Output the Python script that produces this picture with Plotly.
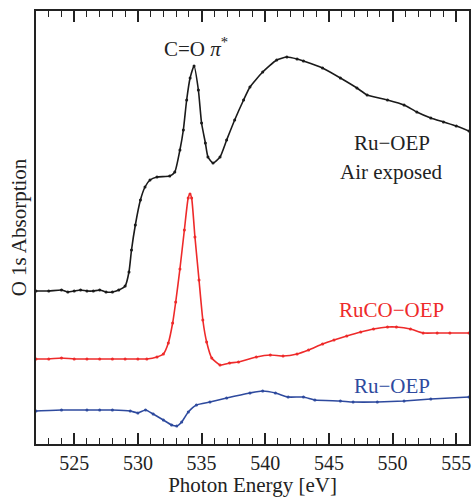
import plotly.graph_objects as go

# Photon energy [eV] and O 1s absorption (arbitrary units, offset for display)
air_energy = [522, 523, 524, 524.5, 525, 525.5, 526, 526.5, 527, 527.5, 528, 528.5, 529, 529.3, 529.5,
              529.8, 530.2, 530.56, 530.95, 531.5, 532.5, 532.9, 533.3, 533.57, 533.83, 534.1, 534.41,
              534.75, 535.0, 535.3, 535.5, 535.9, 536.45, 536.97, 537.6, 538.3, 538.8, 539.8, 540.9,
              541.7, 542.5, 543, 544.5, 545.9, 547.2, 548, 549.6, 550.9, 551.9, 553, 554, 555, 556]
air_abs = [153, 153, 154, 152, 153, 154, 153, 153, 154, 152, 152, 154, 158, 172, 194,
           219, 244, 257, 264, 267, 268, 272, 294, 314, 344, 366, 378,
           354, 321, 301, 287, 281, 287, 304, 324, 344, 357, 372, 384,
           387, 385, 383, 376, 366, 356, 349, 344, 339, 332, 326, 322, 318, 313]

ruco_energy = [522, 523, 524, 525, 526, 527, 528, 529, 530, 530.7, 531.5, 532, 532.39, 532.73,
               532.97, 533.3, 533.65, 533.95, 534.09, 534.22, 534.48, 534.8, 535.1, 535.4, 535.8,
               536.45, 537.2, 537.9, 539.3, 540.4, 541.4, 542.5, 543.4, 544.5, 545.4, 546.4, 547.5,
               548.5, 549.6, 550.3, 551.4, 552.4, 553.5, 554.5, 556]
ruco_abs = [85, 85, 86, 85, 85, 85, 85, 85, 85, 85, 87, 90, 101, 121,
            142, 175, 214, 246, 250, 246, 207, 164, 124, 102, 86,
            79, 81, 82, 87, 89, 88, 90, 94, 100, 104, 108, 112,
            115, 117, 117, 115, 111, 111, 111, 111]

ru_energy = [522, 524, 526, 527, 528, 529.4, 530.0, 530.6, 531.2, 532.0, 532.65, 533.05, 533.44,
             533.96, 534.6, 535.66, 536.97, 538.8, 539.8, 540.8, 541.8, 543, 543.9, 545.9, 546.9,
             548.8, 550.9, 553, 556]
ru_abs = [33, 34, 34, 34, 34, 33, 31, 34, 30, 24, 19, 18, 22,
          32, 39, 42, 46, 51, 53, 51, 47, 47, 44, 43, 42,
          42, 43, 45, 47]

x_ticks = [525, 530, 535, 540, 545, 550, 555]

FONT = "Liberation Serif, Times New Roman, serif"

fig = go.Figure()
for xs, ys, col in [(air_energy, air_abs, "#1a1a1a"),
                    (ruco_energy, ruco_abs, "#ee2a2a"),
                    (ru_energy, ru_abs, "#2e4a9e")]:
    fig.add_trace(go.Scatter(x=xs, y=ys, mode="lines+markers",
                             line=dict(color=col, width=1.6, shape="spline", smoothing=0.5),
                             marker=dict(color=col, size=3),
                             showlegend=False, cliponaxis=True))

fig.add_annotation(x=534.6, y=397, text="C=O <i>π</i><sup>*</sup>", showarrow=False,
                   font=dict(family=FONT, size=21, color="#222"))
fig.add_annotation(x=549.95, y=301, text="Ru−OEP", showarrow=False,
                   font=dict(family=FONT, size=21, color="#222"))
fig.add_annotation(x=549.95, y=272, text="Air exposed", showarrow=False,
                   font=dict(family=FONT, size=21, color="#222"))
fig.add_annotation(x=549.95, y=134, text="RuCO−OEP", showarrow=False,
                   font=dict(family=FONT, size=21, color="#ee2a2a"))
fig.add_annotation(x=549.95, y=58, text="Ru−OEP", showarrow=False,
                   font=dict(family=FONT, size=21, color="#2e4a9e"))

fig.update_layout(
    width=473, height=497,
    margin=dict(l=36, r=4, t=11, b=53, autoexpand=False),
    paper_bgcolor="white", plot_bgcolor="white",
    font=dict(family=FONT, size=20, color="#222"),
    xaxis=dict(range=[522, 556], tickvals=x_ticks, ticktext=[str(v) for v in x_ticks],
               ticks="inside", ticklen=11, tickwidth=1.5, tickcolor="#222",
               minor=dict(dtick=1, ticks="inside", ticklen=6, tickwidth=1.2, tickcolor="#222"),
               showline=True, linecolor="#222", linewidth=1.5, mirror="allticks",
               showgrid=False, zeroline=False, automargin=False,
               title=dict(text="Photon Energy [eV]", font=dict(family=FONT, size=21), standoff=2),
               tickfont=dict(family=FONT, size=20)),
    yaxis=dict(range=[0, 433], showticklabels=False, ticks="",
               showline=True, linecolor="#222", linewidth=1.5, mirror=True,
               showgrid=False, zeroline=False, automargin=False,
               title=dict(text="O 1s Absorption", font=dict(family=FONT, size=21), standoff=2)),
)

fig.write_html("out.html", config={"displayModeBar": False},
               post_script="document.body.style.margin='0';")
